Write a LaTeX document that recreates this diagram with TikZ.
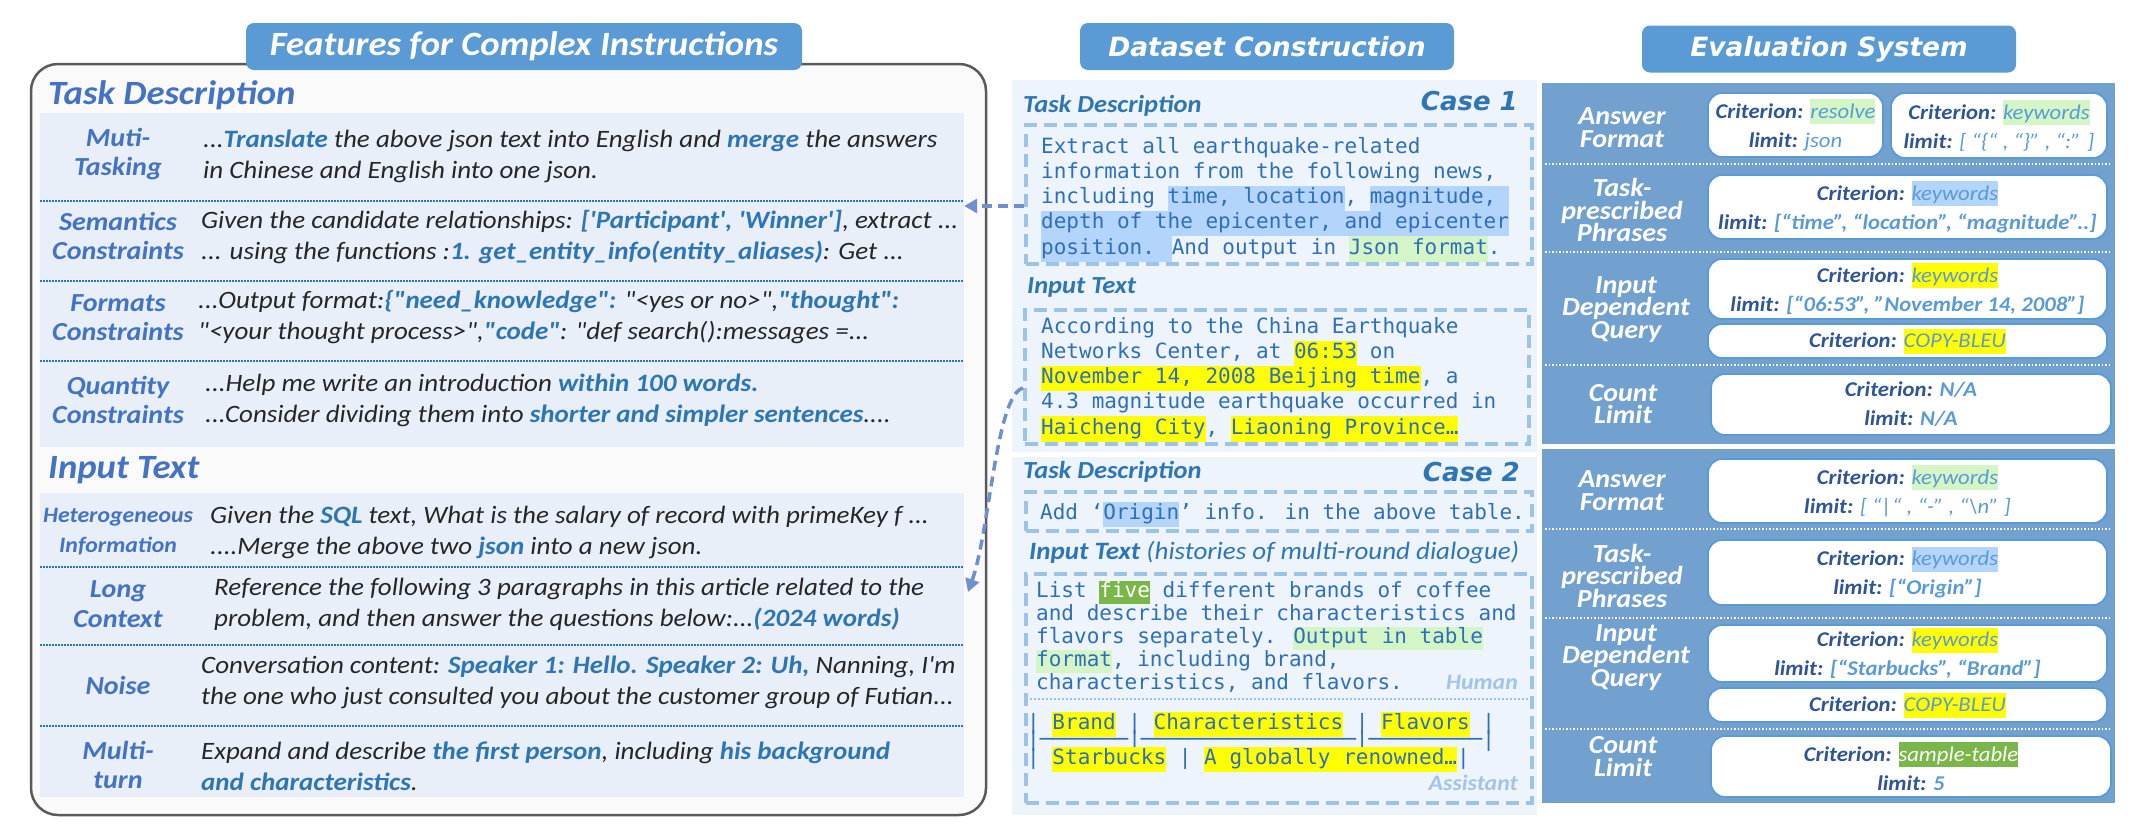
\documentclass[tikz,border=0pt]{standalone}
\usepackage{fontspec}
\setmainfont{Carlito}[Ligatures=TeXOff, FakeStretch=1.08]
\newfontfamily\dvs{DejaVu Sans}
\newfontfamily\mono{DejaVu Sans Mono}
\usetikzlibrary{fit,arrows.meta}
\definecolor{titleblue}{HTML}{5B9BD5}
\definecolor{bandblue}{HTML}{E8EFF8}
\definecolor{outergray}{HTML}{5A5A5A}
\definecolor{outerfill}{HTML}{FAFAFA}
\definecolor{labelblue}{HTML}{4472C4}
\definecolor{emph}{HTML}{2E75B6}
\definecolor{bodytext}{HTML}{262626}
\definecolor{midbg}{HTML}{EDF4FB}
\definecolor{dashblue}{HTML}{9DC3E6}
\definecolor{monoblue}{HTML}{2F6EBA}
\definecolor{hlblue}{HTML}{B4D5FB}
\definecolor{hlgreen}{HTML}{D4F5C6}
\definecolor{hlyellow}{HTML}{FFFF00}
\definecolor{hldkgreen}{HTML}{7AB648}
\definecolor{rightbg}{HTML}{72A1D0}
\definecolor{critblue}{HTML}{2F5597}
\definecolor{valblue}{HTML}{5B9BD5}
\definecolor{arrowblue}{HTML}{6F8FD0}
\definecolor{softblue}{HTML}{A3C4E8}
\newcommand\kw[1]{\textbf{\color{emph}#1}}
\newcommand\hl[2]{{\setlength{\fboxsep}{0pt}\colorbox{#1}{\strut #2}}}
\newcommand\hlw[2]{{\setlength{\fboxsep}{0pt}\colorbox{#1}{\strut\color{white}#2}}}
\newcommand\hlr[2]{{\setlength{\fboxsep}{0pt}\colorbox{#1}{\rule[-6pt]{0pt}{25pt}#2}}}
\newcommand\cl[1]{\textbf{\color{critblue}#1}}
\newcommand\vb[1]{\textbf{\color{valblue}#1}}
\newcommand\vr[1]{{\color{valblue}#1}}
\begin{document}
\begin{tikzpicture}[x=1pt,y=-1pt,
  title/.style={fill=titleblue, rounded corners=8pt, text=white, inner sep=0pt},
  band/.style={fill=bandblue, inner sep=0pt},
  sep/.style={draw=emph, line width=2pt, dash pattern=on 1.5pt off 1.5pt},
  lab/.style={font=\bfseries\itshape\fontsize{26}{29.5}\selectfont, text=labelblue, align=center, inner sep=0pt},
  body/.style={font=\itshape\fontsize{25}{31}\selectfont, text=bodytext, align=left, anchor=west, inner sep=0pt},
  bighead/.style={font=\bfseries\itshape\fontsize{34}{38}\selectfont, text=labelblue, anchor=west, inner sep=0pt},
  panel/.style={fill=midbg, inner sep=0pt},
  dbox/.style={draw=dashblue, line width=4pt, dash pattern=on 13pt off 7pt, inner sep=0pt},
  mhead/.style={font=\bfseries\itshape\fontsize{24.5}{29}\selectfont, text=emph, anchor=west, inner sep=0pt},
  casehead/.style={font=\dvs\bfseries\itshape\fontsize{26}{30}\selectfont, text=emph, anchor=east, inner sep=0pt},
  monoA/.style={font=\mono\fontsize{21}{25.2}\selectfont, text=monoblue, align=left, anchor=north west, inner sep=0pt},
  monoB/.style={font=\mono\fontsize{21}{23}\selectfont, text=monoblue, align=left, anchor=north west, inner sep=0pt},
  monoT/.style={font=\mono\fontsize{21}{25}\selectfont, text=monoblue, anchor=base west, inner sep=0pt},
  role/.style={font=\bfseries\itshape\fontsize{22}{25}\selectfont, text=softblue, anchor=east, inner sep=0pt},
  arr/.style={draw=arrowblue, line width=3.5pt, dash pattern=on 10pt off 6pt, -{Triangle[length=13pt,width=14pt]}},
  rpanel/.style={fill=rightbg, inner sep=0pt},
  wsep/.style={draw=white, line width=2pt, dash pattern=on 1.5pt off 2pt},
  wbox/.style={draw=valblue, line width=1.8pt, fill=white, rounded corners=14pt, inner sep=0pt},
  rlab/.style={font=\bfseries\itshape\fontsize{26}{22.5}\selectfont, text=white, align=center, inner sep=0pt},
  btxt/.style={font=\itshape\fontsize{21}{29}\selectfont, align=center, inner sep=0pt}
]
\useasboundingbox[fill=white] (0,0) rectangle (2131,831);

% ===== LEFT PANEL =====
\node[fit={(31,64) (986,815)}, draw=outergray, line width=2.5pt, fill=outerfill, rounded corners=27pt, inner sep=0pt] (outer) {};
\node[title, minimum width=556pt, minimum height=47pt, font=\bfseries\itshape\fontsize{34}{38}\selectfont] (t1) at (524,46.5) {Features for Complex Instructions};
\node[bighead] (hd1) at (48,95) {Task Description};
\node[band, fit={(40,113) (964,447)}] (taskband) {};
\draw[sep] (40,201) -- (964,201);
\draw[sep] (40,281) -- (964,281);
\draw[sep] (40,361) -- (964,361);
\node[lab] (l1) at (118,154) {Muti-\\Tasking};
\node[body] (r1) at (203,156.5) {...\kw{Translate} the above json text into English and \kw{merge} the answers\\in Chinese and English into one json.};
\node[lab] (l2) at (118,236) {Semantics\\Constraints};
\node[body] (r2) at (201,237.5) {Given the candidate relationships: \kw{['Participant', 'Winner']}, extract ...\\... using the functions :\kw{1. get\_entity\_info(entity\_aliases)}: Get ...};
\node[lab] (l3) at (118,317.5) {Formats\\Constraints};
\node[body] (r3) at (198,317.5) {...Output format:\kw{\{"need\_knowledge":} "<yes or no>",\kw{"thought":}\\"<your thought process>",\kw{"code"}: "def search():messages =...};
\node[lab] (l4) at (118,400) {Quantity\\Constraints};
\node[body] (r4) at (205,400) {...Help me write an introduction \kw{within 100 words.}\\...Consider dividing them into \kw{shorter and simpler sentences}....};

\node[bighead] (hd2) at (48,470) {Input Text};
\node[band, fit={(40,493) (964,797)}] (inputband) {};
\draw[sep] (40,567) -- (964,567);
\draw[sep] (40,645) -- (964,645);
\draw[sep] (40,726) -- (964,726);
\node[lab, font=\bfseries\itshape\fontsize{22}{30}\selectfont] (l5) at (118,532) {Heterogeneous\\Information};
\node[body] (r5) at (210,532) {Given the \kw{SQL} text, What is the salary of record with primeKey f ...\\....Merge the above two \kw{json} into a new json.};
\node[lab] (l6) at (118,604) {Long\\Context};
\node[body] (r6) at (214,604) {Reference the following 3 paragraphs in this article related to the\\problem, and then answer the questions below:...\kw{(2024 words)}};
\node[lab] (l7) at (118,685) {Noise};
\node[body] (r7) at (201,682.5) {Conversation content: \kw{Speaker 1: Hello. Speaker 2: Uh,} Nanning, I'm\\the one who just consulted you about the customer group of Futian...};
\node[lab] (l8) at (118,765) {Multi-\\turn};
\node[body] (r8) at (201,766.5) {Expand and describe \kw{the first person}, including \kw{his background}\\\kw{and characteristics}.};

% ===== MIDDLE PANEL =====
\node[title, minimum width=374pt, minimum height=47pt, font=\dvs\bfseries\itshape\fontsize{26.5}{30}\selectfont] (t2) at (1267,46.5) {Dataset Construction};
\node[panel, fit={(1012,80) (1537,452)}] (case1) {};
\node[panel, fit={(1012,457) (1537,815)}] (case2) {};
\node[mhead] (td1) at (1023,106) {Task Description};
\node[casehead] (c1) at (1518,101) {Case 1};
\node[dbox, fit={(1026,125) (1532,264)}] (b1) {};
\node[monoA] (m1) at (1041,135.4) {\strut Extract all earthquake-related\\
\strut information from the following news,\\
\strut including \hl{hlblue}{time, location}, \hl{hlblue}{magnitude, }\\
\hl{hlblue}{depth of the epicenter, and epicenter}\\
\hl{hlblue}{position. }And output in \hl{hlgreen}{Json format}.};
\node[mhead] (it1) at (1027,287) {Input Text};
\node[dbox, fit={(1025,310) (1529,444)}] (b2) {};
\node[monoA] (m2) at (1041,315.4) {\strut According to the China Earthquake\\
\strut Networks Center, at \hl{hlyellow}{06:53} on\\
\hl{hlyellow}{November 14, 2008 Beijing time}, a\\
\strut 4.3 magnitude earthquake occurred in\\
\hl{hlyellow}{Haicheng City}, \hl{hlyellow}{Liaoning Province…}};

\node[mhead] (td2) at (1023,472) {Task Description};
\node[casehead] (c2) at (1520,472) {Case 2};
\node[dbox, fit={(1026,492) (1532,531)}] (b3) {};
\node[monoA] (m3) at (1040,501.4) {\strut Add ‘\hl{hlblue}{Origin}’ info. in the above table.};
\node[mhead, font=\bfseries\itshape\fontsize{25}{29}\selectfont] (it2) at (1029,552) {Input Text \mdseries(histories of multi-round dialogue)};
\node[dbox, fit={(1026,574) (1532,803)}] (b4) {};
\node[monoB] (m4) at (1036,580.9) {\strut List \hlw{hldkgreen}{five} different brands of coffee\\
\strut and describe their characteristics and\\
\strut flavors separately. \hl{hlgreen}{Output in table}\\
\hl{hlgreen}{format}, including brand,\\
\strut characteristics, and flavors.};
\node[role] (hum) at (1518,682) {Human};
\draw[draw=dashblue, line width=2.5pt, dash pattern=on 2pt off 2pt] (1030,699) -- (1528,699);
\node[monoT] (tr1) at (1027,729) {| \hl{hlyellow}{Brand} | \hl{hlyellow}{Characteristics} | \hl{hlyellow}{Flavors} |};
\node[monoT] (tr2) at (1027,746.5) {|───────|─────────────────|─────────|};
\node[monoT] (tr3) at (1027,764) {| \hl{hlyellow}{Starbucks} | \hl{hlyellow}{A globally renowned…}|};
\node[role] (asst) at (1518,783) {Assistant};

% arrows
\coordinate (a1s) at ([yshift=-11.5pt]b1.west);
\coordinate (a1e) at (a1s -| taskband.east);
\draw[arr] (a1s) -- (a1e);
\coordinate (a2s) at ([yshift=-11pt]b2.west);
\coordinate (a2e) at (968,592);
\draw[arr] (a2s) .. controls +(-27,7) and +(22,-62) .. (a2e);

% ===== RIGHT PANEL =====
\node[title, minimum width=374pt, minimum height=47pt, font=\dvs\bfseries\itshape\fontsize{26.5}{30}\selectfont] (t3) at (1829,49) {Evaluation System};
\node[rpanel, fit={(1542,83) (2115,444)}] (rp1) {};
\node[rpanel, fit={(1542,449) (2115,803)}] (rp2) {};
\draw[wsep] (1545,164) -- (2112,164);
\draw[wsep] (1545,252) -- (2112,252);
\draw[wsep] (1545,365) -- (2112,365);
\draw[wsep] (1545,529) -- (2112,529);
\draw[wsep] (1545,618) -- (2112,618);
\draw[wsep] (1545,729) -- (2112,729);

\node[rlab] (ra1) at (1622,127.5) {Answer\\Format};
\node[rlab] (rt1) at (1622,210) {Task-\\prescribed\\Phrases};
\node[rlab] (ri1) at (1626,309.5) {Input\\Dependent\\Query};
\node[rlab] (rc1) at (1623,404) {Count\\Limit};
\node[rlab] (ra2) at (1622,490.5) {Answer\\Format};
\node[rlab] (rt2) at (1622,575.5) {Task-\\prescribed\\Phrases};
\node[rlab] (ri2) at (1626,657.5) {Input\\Dependent\\Query};
\node[rlab] (rc2) at (1623,756.5) {Count\\Limit};

\node[wbox, fit={(1708,93) (1883,157)}] (ea1) {};
\node[btxt] (ea1t) at (ea1.center) {\cl{Criterion:} \vr{\hlr{hlgreen}{resolve}}\\ \cl{limit:} \vr{json}};
\node[wbox, fit={(1891,93) (2107,158)}] (ea2) {};
\node[btxt] (ea2t) at (ea2.center) {\cl{Criterion:} \vr{\hlr{hlgreen}{keywords}}\\ \cl{limit:} \vr{[ “\{“ , “\}” , “:” ]}};
\node[wbox, fit={(1708,175) (2107,239)}] (et1) {};
\node[btxt] (et1t) at (et1.center) {\cl{Criterion:} \vr{\hlr{hlblue}{keywords}}\\ \cl{limit:} \vb{[“time”, “location”, “magnitude”..]}};
\node[wbox, fit={(1708,259) (2107,319)}] (ei1) {};
\node[btxt] (ei1t) at (ei1.center) {\cl{Criterion:} \vr{\hlr{hlyellow}{keywords}}\\ \cl{limit:} \vb{[“06:53”, ”November 14, 2008”]}};
\node[wbox, fit={(1708,324) (2107,358)}] (ej1) {};
\node[btxt] (ej1t) at (ej1.center) {\cl{Criterion:} \vr{\hlr{hlyellow}{COPY-BLEU}}};
\node[wbox, fit={(1711,374) (2111,435)}] (ec1) {};
\node[btxt] (ec1t) at (ec1.center) {\cl{Criterion:} \vb{N/A}\\ \cl{limit:} \vb{N/A}};

\node[wbox, fit={(1708,459) (2107,523)}] (ea3) {};
\node[btxt] (ea3t) at (ea3.center) {\cl{Criterion:} \vr{\hlr{hlgreen}{keywords}}\\ \cl{limit:} \vr{[ “|“ , “-” , “\textbackslash n” ]}};
\node[wbox, fit={(1708,540) (2107,605)}] (et2) {};
\node[btxt] (et2t) at (et2.center) {\cl{Criterion:} \vr{\hlr{hlblue}{keywords}}\\ \cl{limit:} \vb{[“Origin”]}};
\node[wbox, fit={(1708,625) (2107,682)}] (ei2) {};
\node[btxt] (ei2t) at (ei2.center) {\cl{Criterion:} \vr{\hlr{hlyellow}{keywords}}\\ \cl{limit:} \vb{[“Starbucks”, “Brand”]}};
\node[wbox, fit={(1708,688) (2107,722)}] (ej2) {};
\node[btxt] (ej2t) at (ej2.center) {\cl{Criterion:} \vr{\hlr{hlyellow}{COPY-BLEU}}};
\node[wbox, fit={(1711,736) (2111,797)}] (ec2) {};
\node[btxt] (ec2t) at (ec2.center) {\cl{Criterion:} \hlr{hldkgreen}{\color{white}sample-table}\\ \cl{limit:} \vb{5}};
\end{tikzpicture}
\end{document}
